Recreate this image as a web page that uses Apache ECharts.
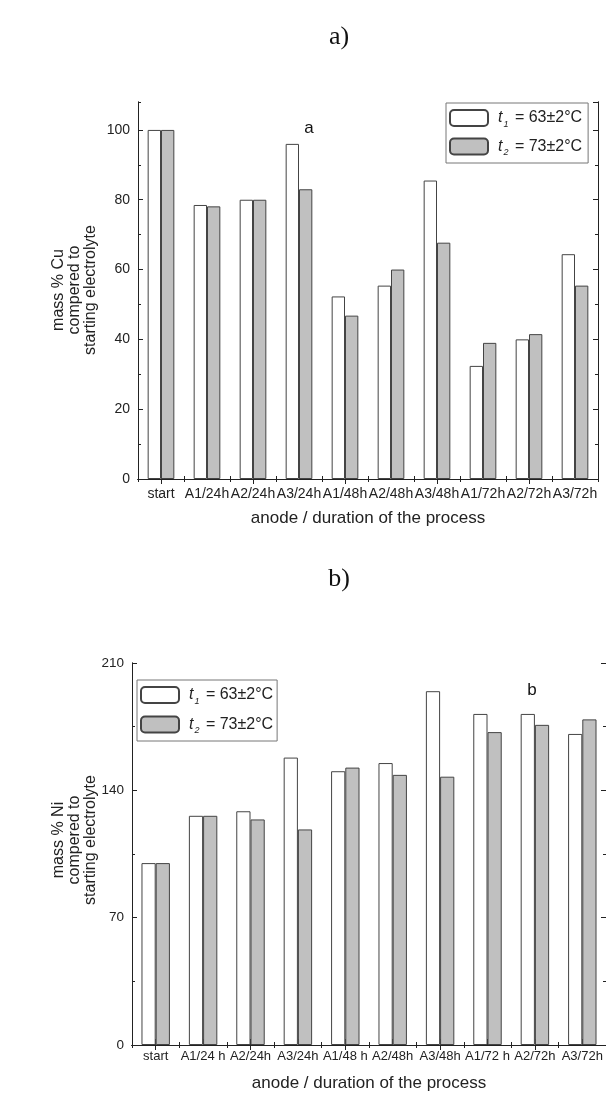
<!DOCTYPE html>
<html>
<head>
<meta charset="utf-8">
<script src="https://cdn.jsdelivr.net/npm/echarts@6/dist/echarts.min.js"></script>
<style>
  html, body { margin: 0; padding: 0; background: #fff; }
  #main { width: 606px; height: 1095px; }
</style>
</head>
<body>
<div id="main"></div>
<script>
// categories
var catsCu = ['start', 'A1/24h', 'A2/24h', 'A3/24h', 'A1/48h', 'A2/48h', 'A3/48h', 'A1/72h', 'A2/72h', 'A3/72h'];
var catsNi = ['start', 'A1/24 h', 'A2/24h', 'A3/24h', 'A1/48 h', 'A2/48h', 'A3/48h', 'A1/72 h', 'A2/72h', 'A3/72h'];

// a) mass % Cu
var cuT1 = [100, 78.5, 80, 96, 52.3, 55.4, 85.5, 32.4, 40, 64.4];
var cuT2 = [100, 78.1, 80, 83, 46.8, 60, 67.7, 39, 41.5, 55.4];

// b) mass % Ni
var niT1 = [100, 126, 128.5, 158, 150.5, 155, 194.5, 182, 182, 171];
var niT2 = [100, 126, 124, 118.5, 152.5, 148.5, 147.5, 172, 176, 179];

var font = 'Liberation Sans, Arial, sans-serif';
var lineCol = '#222';

var myChart = echarts.init(document.getElementById('main'));

// labelled bottom axis + boundary ticks + mirrored top
function xAxes(grid, cats, fs, margin, gap) {
    var base = {
        type: 'category', gridIndex: grid, data: cats, boundaryGap: true,
        axisLine: { show: true, lineStyle: { color: lineCol, width: 1 } },
        splitLine: { show: false }
    };
    return [
        Object.assign({}, base, {
            position: 'bottom',
            axisTick: { show: true, inside: true, alignWithLabel: true, length: 6, lineStyle: { color: lineCol } },
            axisLabel: { interval: 0, fontFamily: font, fontSize: fs, color: '#222', margin: margin },
            name: 'anode / duration of the process',
            nameLocation: 'middle', nameGap: gap,
            nameTextStyle: { fontFamily: font, fontSize: 17, color: '#222' }
        }),
        Object.assign({}, base, {
            position: 'bottom',
            axisTick: { show: true, inside: true, length: 3, interval: 0, lineStyle: { color: lineCol } },
            axisLabel: { show: false }
        }),
        Object.assign({}, base, {
            position: 'top',
            axisTick: { show: true, inside: true, alignWithLabel: true, length: 5, lineStyle: { color: lineCol } },
            axisLabel: { show: false }
        }),
        Object.assign({}, base, {
            position: 'top',
            axisTick: { show: true, inside: true, length: 3, interval: 0, lineStyle: { color: lineCol } },
            axisLabel: { show: false }
        })
    ];
}

function yAxes(grid, max, step, fs) {
    var base = {
        type: 'value', gridIndex: grid, min: 0, max: max,
        axisLine: { show: true, lineStyle: { color: lineCol, width: 1 } },
        splitLine: { show: false }
    };
    return [
        Object.assign({}, base, {
            position: 'left', interval: step,
            axisTick: { show: true, inside: true, length: 5, lineStyle: { color: lineCol } },
            axisLabel: { fontFamily: font, fontSize: fs, color: '#222', margin: 8, showMaxLabel: max % step === 0 }
        }),
        Object.assign({}, base, {
            position: 'left', interval: step / 2,
            axisTick: { show: true, inside: true, length: 3, lineStyle: { color: lineCol } },
            axisLabel: { show: false }
        }),
        Object.assign({}, base, {
            position: 'right', interval: step,
            axisTick: { show: true, inside: true, length: 5, lineStyle: { color: lineCol } },
            axisLabel: { show: false }
        }),
        Object.assign({}, base, {
            position: 'right', interval: step / 2,
            axisTick: { show: true, inside: true, length: 3, lineStyle: { color: lineCol } },
            axisLabel: { show: false }
        })
    ];
}

var legendRich = {
    i: { fontFamily: font, fontSize: 16, fontStyle: 'italic', color: '#222', lineHeight: 21, padding: [0, 0, 0, 5] },
    s: { fontFamily: font, fontSize: 9, fontStyle: 'italic', color: '#222', lineHeight: 21, verticalAlign: 'bottom', padding: [0, 2, 0, 1] },
    n: { fontFamily: font, fontSize: 16, color: '#222', lineHeight: 21 }
};
function legendText(name) {
    return name === 't1' ? '{i|t}{s|1}{n| = 63±2°C}' : '{i|t}{s|2}{n| = 73±2°C}';
}

var whiteStyle = { color: '#ffffff', borderColor: '#444', borderWidth: 1 };
var grayStyle = { color: '#c0c0c0', borderColor: '#444', borderWidth: 1 };

option = {
    animation: false,
    backgroundColor: '#fff',
    grid: [
        { left: 138, top: 102, width: 460, height: 377 },
        { left: 132, top: 663, width: 480, height: 382 }
    ],
    xAxis: xAxes(0, catsCu, 14, 8, 31).concat(xAxes(1, catsNi, 13, 5, 30)),
    yAxis: yAxes(0, 108, 20, 14).concat(yAxes(1, 210, 70, 13.5)),
    legend: [
        {
            orient: 'vertical', left: 446, top: 103,
            itemWidth: 38, itemHeight: 16, itemGap: 9,
            padding: [6, 6, 6, 3],
            borderColor: '#777', borderWidth: 1,
            data: ['t1', 't2'],
            formatter: legendText,
            textStyle: { rich: legendRich }
        },
        {
            orient: 'vertical', left: 137, top: 680,
            itemWidth: 38, itemHeight: 16, itemGap: 10,
            padding: [6, 4, 6, 3],
            borderColor: '#777', borderWidth: 1,
            data: ['t1', 't2'],
            formatter: legendText,
            textStyle: { rich: legendRich }
        }
    ],
    graphic: [
        { type: 'text', x: 339, y: 37, style: { text: 'a)', font: '26px "Liberation Serif", serif', fill: '#111', textAlign: 'center', textVerticalAlign: 'middle' } },
        { type: 'text', x: 339, y: 579, style: { text: 'b)', font: '26px "Liberation Serif", serif', fill: '#111', textAlign: 'center', textVerticalAlign: 'middle' } },
        { type: 'text', x: 309, y: 128, style: { text: 'a', font: '17px "Liberation Sans", sans-serif', fill: '#111', textAlign: 'center', textVerticalAlign: 'middle' } },
        { type: 'text', x: 532, y: 690, style: { text: 'b', font: '17px "Liberation Sans", sans-serif', fill: '#111', textAlign: 'center', textVerticalAlign: 'middle' } },
        { type: 'text', x: 75, y: 290, rotation: Math.PI / 2,
          style: { text: 'mass % Cu\ncompered to\nstarting electrolyte', font: '16px "Liberation Sans", sans-serif', lineHeight: 16, fill: '#222', textAlign: 'center', textVerticalAlign: 'middle' } },
        { type: 'text', x: 75, y: 840, rotation: Math.PI / 2,
          style: { text: 'mass % Ni\ncompered to\nstarting electrolyte', font: '16px "Liberation Sans", sans-serif', lineHeight: 16, fill: '#222', textAlign: 'center', textVerticalAlign: 'middle' } }
    ],
    series: [
        { name: 't1', type: 'bar', xAxisIndex: 0, yAxisIndex: 0, data: cuT1, barWidth: '29%', barGap: '0%', itemStyle: whiteStyle },
        { name: 't2', type: 'bar', xAxisIndex: 0, yAxisIndex: 0, data: cuT2, barWidth: '29%', barGap: '0%', itemStyle: grayStyle },
        { name: 't1', type: 'bar', xAxisIndex: 4, yAxisIndex: 4, data: niT1, barWidth: '30%', barGap: '0%', itemStyle: whiteStyle },
        { name: 't2', type: 'bar', xAxisIndex: 4, yAxisIndex: 4, data: niT2, barWidth: '30%', barGap: '0%', itemStyle: grayStyle }
    ]
};
myChart.setOption(option);
</script>
</body>
</html>
